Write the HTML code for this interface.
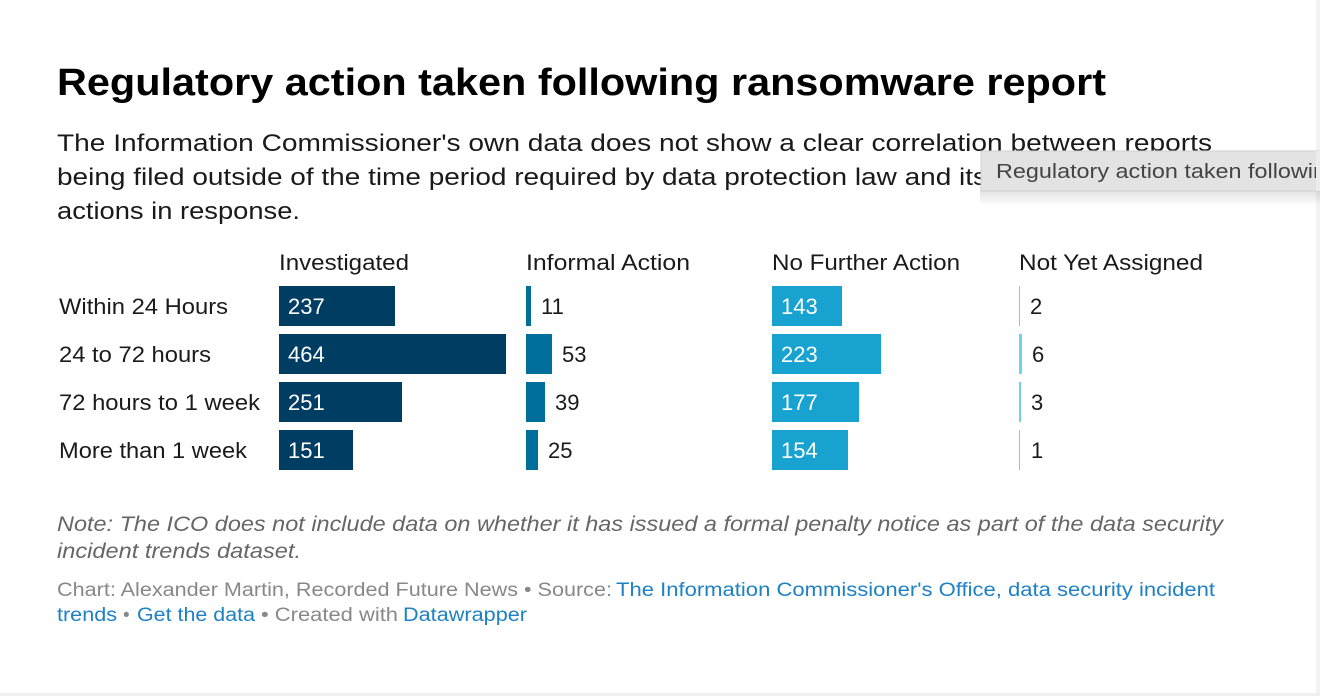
<!DOCTYPE html>
<html><head><meta charset="utf-8"><style>
html,body{margin:0;padding:0;background:#fff;}
svg{display:block;font-family:"Liberation Sans",Arial,sans-serif;}
</style></head><body>
<svg width="1320" height="696" viewBox="0 0 1320 696" xmlns="http://www.w3.org/2000/svg">
<rect x="0" y="0" width="1320" height="696" fill="#fff"/>
<rect x="1316" y="0" width="4" height="696" fill="#f3f3f3"/>
<rect x="0" y="693" width="1320" height="3" fill="#f0f0f0"/>

<text x="57" y="95" font-size="38" font-weight="bold" fill="#000" textLength="1049" lengthAdjust="spacingAndGlyphs">Regulatory action taken following ransomware report</text>

<g font-size="24" fill="#1a1a1a">
<text x="57" y="151" textLength="1155" lengthAdjust="spacingAndGlyphs">The Information Commissioner's own data does not show a clear correlation between reports</text>
<text x="57" y="185" textLength="930" lengthAdjust="spacingAndGlyphs">being filed outside of the time period required by data protection law and its</text>
<text x="57" y="219" textLength="243" lengthAdjust="spacingAndGlyphs">actions in response.</text>
</g>

<g font-size="22" fill="#1a1a1a">
<text x="279" y="270" textLength="130" lengthAdjust="spacingAndGlyphs">Investigated</text>
<text x="526" y="270" textLength="164" lengthAdjust="spacingAndGlyphs">Informal Action</text>
<text x="772" y="270" textLength="188" lengthAdjust="spacingAndGlyphs">No Further Action</text>
<text x="1019" y="270" textLength="184" lengthAdjust="spacingAndGlyphs">Not Yet Assigned</text>
<text x="59" y="314" textLength="169" lengthAdjust="spacingAndGlyphs">Within 24 Hours</text>
<text x="59" y="362" textLength="152" lengthAdjust="spacingAndGlyphs">24 to 72 hours</text>
<text x="59" y="410" textLength="201" lengthAdjust="spacingAndGlyphs">72 hours to 1 week</text>
<text x="59" y="458" textLength="188" lengthAdjust="spacingAndGlyphs">More than 1 week</text>
</g>

<g fill="#003d63">
<rect x="279" y="286" width="116" height="40"/>
<rect x="279" y="334" width="227" height="40"/>
<rect x="279" y="382" width="123" height="40"/>
<rect x="279" y="430" width="74" height="40"/>
</g>
<g fill="#006e9b">
<rect x="526" y="286" width="5" height="40"/>
<rect x="526" y="334" width="26" height="40"/>
<rect x="526" y="382" width="19" height="40"/>
<rect x="526" y="430" width="12" height="40"/>
</g>
<g fill="#17a2cf">
<rect x="772" y="286" width="70" height="40"/>
<rect x="772" y="334" width="109" height="40"/>
<rect x="772" y="382" width="87" height="40"/>
<rect x="772" y="430" width="76" height="40"/>
</g>
<g fill="#6fd0f2">
<rect x="1019" y="286" width="1" height="40"/>
<rect x="1019" y="334" width="3" height="40"/>
<rect x="1019" y="382" width="2" height="40"/>
<rect x="1019" y="430" width="1" height="40"/>
</g>

<g font-size="22" fill="#fff">
<text x="288" y="314">237</text>
<text x="288" y="362">464</text>
<text x="288" y="410">251</text>
<text x="288" y="458">151</text>
<text x="781" y="314">143</text>
<text x="781" y="362">223</text>
<text x="781" y="410">177</text>
<text x="781" y="458">154</text>
</g>
<g font-size="22" fill="#1a1a1a">
<text x="541" y="314">11</text>
<text x="562" y="362">53</text>
<text x="555" y="410">39</text>
<text x="548" y="458">25</text>
<text x="1030" y="314">2</text>
<text x="1032" y="362">6</text>
<text x="1031" y="410">3</text>
<text x="1031" y="458">1</text>
</g>

<g font-size="21" font-style="italic" fill="#666">
<text x="57" y="531" textLength="1166" lengthAdjust="spacingAndGlyphs">Note: The ICO does not include data on whether it has issued a formal penalty notice as part of the data security</text>
<text x="57" y="558" textLength="244" lengthAdjust="spacingAndGlyphs">incident trends dataset.</text>
</g>

<g font-size="19">
<text x="57" y="596" fill="#888" textLength="555" lengthAdjust="spacingAndGlyphs">Chart: Alexander Martin, Recorded Future News • Source:</text>
<text x="616" y="596" fill="#1d81c4" textLength="599" lengthAdjust="spacingAndGlyphs">The Information Commissioner's Office, data security incident</text>
<text x="57" y="621" fill="#1d81c4" textLength="60" lengthAdjust="spacingAndGlyphs">trends</text>
<text x="123" y="621" fill="#888">•</text>
<text x="137" y="621" fill="#1d81c4" textLength="118" lengthAdjust="spacingAndGlyphs">Get the data</text>
<text x="261" y="621" fill="#888" textLength="137" lengthAdjust="spacingAndGlyphs">• Created with</text>
<text x="403" y="621" fill="#1d81c4" textLength="124" lengthAdjust="spacingAndGlyphs">Datawrapper</text>
</g>

<defs><linearGradient id="sh" x1="0" y1="0" x2="0" y2="1"><stop offset="0" stop-color="#000" stop-opacity="0.12"/><stop offset="1" stop-color="#000" stop-opacity="0"/></linearGradient></defs>
<rect x="980" y="190" width="340" height="16" fill="url(#sh)"/>
<rect x="981" y="151" width="339" height="40" fill="#e3e3e3" stroke="#d0d0d0" stroke-width="1"/>
<text x="996" y="178" font-size="20" fill="#444" textLength="330" lengthAdjust="spacingAndGlyphs">Regulatory action taken followin</text>
<rect x="1316" y="151" width="4" height="40" fill="#ececec"/>
</svg>
</body></html>
